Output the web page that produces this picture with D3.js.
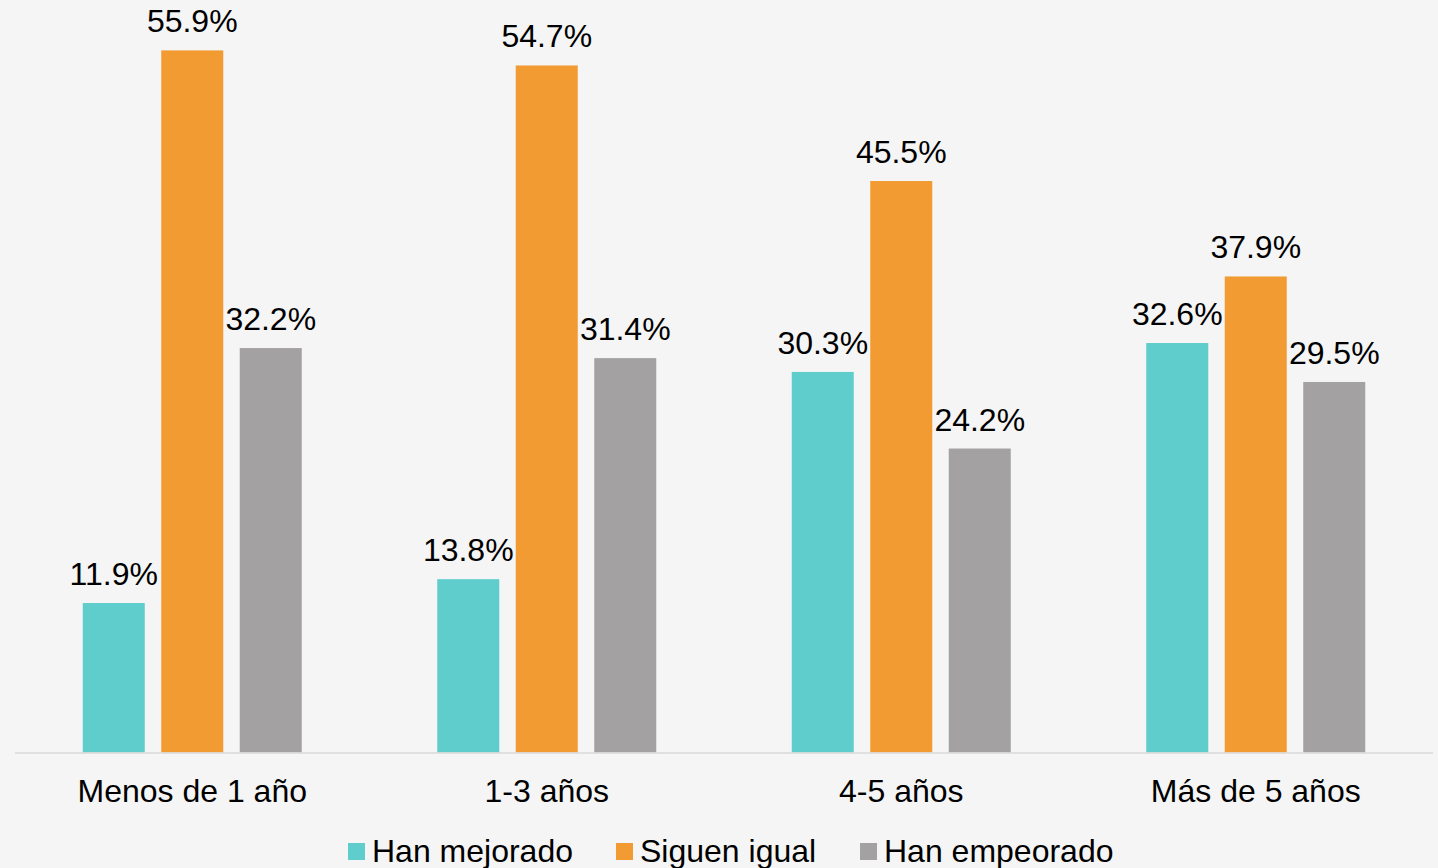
<!DOCTYPE html>
<html><head><meta charset="utf-8">
<script src="https://cdn.jsdelivr.net/npm/d3@7"></script>
<style>html,body{margin:0;padding:0;background:#f5f5f5;}svg{display:block;}</style>
</head><body>
<svg id="c" width="1438" height="868"></svg>
<script>
const categories = ["Menos de 1 año", "1-3 años", "4-5 años", "Más de 5 años"];
const seriesNames = ["Han mejorado", "Siguen igual", "Han empeorado"];
const mejorado = [11.9, 13.8, 30.3, 32.6];
const igual = [55.9, 54.7, 45.5, 37.9];
const empeorado = [32.2, 31.4, 24.2, 29.5];
const colors = ["#5ecdcb", "#f29b33", "#a3a1a2"];

const seriesValues = [mejorado, igual, empeorado];
const svg = d3.select("#c");
const font = "'Liberation Sans', Arial, sans-serif";
const fs = 32;
svg.append("rect").attr("width",1438).attr("height",868).attr("fill","#f5f5f5");

const x0 = d3.scaleBand().domain(categories).range([15, 1433]).padding(0);
const x1 = d3.scaleBand().domain(seriesNames).range([0, x0.bandwidth()]).paddingInner(0.21).paddingOuter(0.863);
const y = d3.scaleLinear().domain([0, 56]).range([752.5, 752.5 - 56*12.56]);

const g = svg.append("g");
categories.forEach((c, i) => {
  seriesNames.forEach((s, j) => {
    const v = seriesValues[j][i];
    g.append("rect")
      .attr("x", x0(c) + x1(s))
      .attr("y", y(v))
      .attr("width", x1.bandwidth())
      .attr("height", y(0) - y(v))
      .attr("fill", colors[j]);
    g.append("text")
      .attr("x", x0(c) + x1(s) + x1.bandwidth()/2)
      .attr("y", y(v) - 18)
      .attr("text-anchor", "middle")
      .attr("font-family", font)
      .attr("font-size", fs)
      .attr("fill", "#000")
      .text(v.toFixed(1) + "%");
  });
});

// baseline
svg.append("line").attr("x1", 15).attr("x2", 1433).attr("y1", y(0)+0.5).attr("y2", y(0)+0.5)
  .attr("stroke", "#d9d9d9").attr("stroke-width", 1.5);

// category axis
const xAxis = d3.axisBottom(x0).tickSize(0).tickPadding(0);
const ax = svg.append("g").attr("transform", `translate(0,${y(0)})`).call(xAxis);
ax.select(".domain").remove();
ax.selectAll("text").attr("font-family", font).attr("font-size", fs).attr("fill", "#000")
  .attr("dy", null).attr("y", 49);

// legend
const legendX = [348, 616, 860];
const lg = svg.append("g");
seriesNames.forEach((s, j) => {
  lg.append("rect").attr("x", legendX[j]).attr("y", 843).attr("width", 17).attr("height", 17).attr("fill", colors[j]);
  lg.append("text").attr("x", legendX[j] + 24).attr("y", 862)
    .attr("font-family", font).attr("font-size", fs).attr("fill", "#000").text(s);
});
</script>
</body></html>
